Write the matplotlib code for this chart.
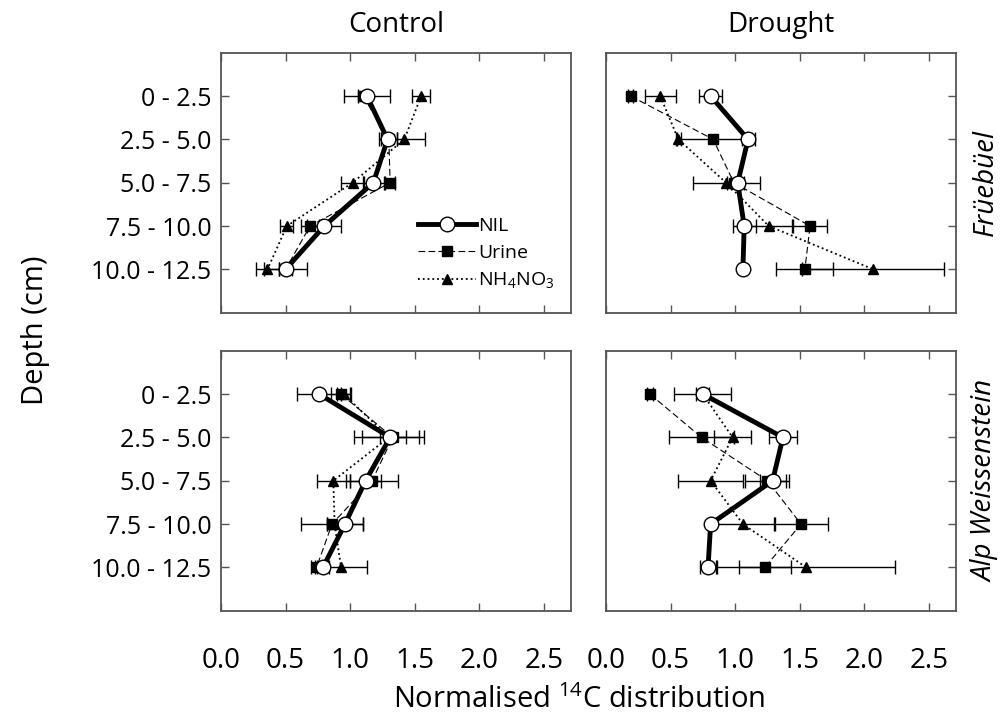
import numpy as np
import matplotlib.pyplot as plt

plt.rcParams['font.family'] = ['Open Sans', 'DejaVu Sans']
plt.rcParams['mathtext.fontset'] = 'custom'
plt.rcParams['mathtext.rm'] = 'Open Sans'

depths = ['0 - 2.5', '2.5 - 5.0', '5.0 - 7.5', '7.5 - 10.0', '10.0 - 12.5']
treatments = ['Control', 'Drought']
sites = ['Früebüel', 'Alp Weissenstein']
xticks = [0.0, 0.5, 1.0, 1.5, 2.0, 2.5]

# Früebüel, control
fc_nil = [1.13, 1.29, 1.18, 0.80, 0.50]
fc_nil_err = [0.18, 0.07, 0.08, 0.13, 0.17]
fc_uri = [1.10, 1.30, 1.31, 0.69, 0.50]
fc_uri_err = [0.04, 0.06, 0.04, 0.07, 0.05]
fc_amm = [1.55, 1.42, 1.02, 0.51, 0.36]
fc_amm_err = [0.07, 0.16, 0.09, 0.05, 0.09]

# Früebüel, drought
fd_nil = [0.81, 1.10, 1.02, 1.07, 1.06]
fd_nil_err = [0.09, 0.05, 0.05, 0.09, 0.0]
fd_uri = [0.19, 0.83, 0.99, 1.58, 1.54]
fd_uri_err = [0.02, 0.28, 0.05, 0.13, 0.22]
fd_amm = [0.42, 0.56, 0.93, 1.26, 2.07]
fd_amm_err = [0.12, 0.02, 0.26, 0.18, 0.55]

# Alp Weissenstein, control
ac_nil = [0.76, 1.31, 1.12, 0.96, 0.79]
ac_nil_err = [0.17, 0.22, 0.12, 0.14, 0.05]
ac_uri = [0.93, 1.33, 1.17, 0.86, 0.74]
ac_uri_err = [0.08, 0.10, 0.20, 0.24, 0.04]
ac_amm = [0.95, 1.30, 0.87, 0.88, 0.93]
ac_amm_err = [0.05, 0.27, 0.13, 0.06, 0.20]

# Alp Weissenstein, drought
ad_nil = [0.75, 1.37, 1.29, 0.81, 0.79]
ad_nil_err = [0.05, 0.11, 0.10, 0.0, 0.06]
ad_uri = [0.34, 0.74, 1.25, 1.51, 1.23]
ad_uri_err = [0.02, 0.25, 0.17, 0.21, 0.20]
ad_amm = [0.75, 0.98, 0.81, 1.06, 1.55]
ad_amm_err = [0.22, 0.14, 0.25, 0.25, 0.69]

panels = [
    [(fc_nil, fc_nil_err, fc_uri, fc_uri_err, fc_amm, fc_amm_err),
     (fd_nil, fd_nil_err, fd_uri, fd_uri_err, fd_amm, fd_amm_err)],
    [(ac_nil, ac_nil_err, ac_uri, ac_uri_err, ac_amm, ac_amm_err),
     (ad_nil, ad_nil_err, ad_uri, ad_uri_err, ad_amm, ad_amm_err)],
]

fig = plt.figure(figsize=(10.08, 7.18), dpi=100)
lefts = [0.2192, 0.6012]
bottoms = [0.5645, 0.1494]
w, h = 0.3472, 0.3621
ypos = np.arange(len(depths))
spine_col = '#555555'

for r in range(2):
    for c in range(2):
        ax = fig.add_axes([lefts[c], bottoms[r], w, h])
        nil, nil_e, uri, uri_e, amm, amm_e = panels[r][c]
        e3 = ax.errorbar(amm, ypos, xerr=amm_e, fmt='^', ls=':', lw=1.3, color='black',
                         ms=7, capsize=5, elinewidth=1, capthick=1, zorder=2)
        e2 = ax.errorbar(uri, ypos, xerr=uri_e, fmt='s', ls=(0, (6, 3)), lw=0.8, color='black',
                         ms=7, capsize=5, elinewidth=1, capthick=1, zorder=3)
        e1 = ax.errorbar(nil, ypos, xerr=nil_e, fmt='o', ls='-', lw=3.5, color='black',
                         mfc='white', mec='black', mew=1, ms=10.5, capsize=5,
                         elinewidth=1, capthick=1, zorder=4)
        ax.set_xlim(0, 2.71)
        ax.set_ylim(5, -1)
        ax.set_yticks(ypos)
        ax.set_xticks(xticks)
        for s in ax.spines.values():
            s.set_color(spine_col)
            s.set_linewidth(1.3)
        ax.tick_params(direction='in', length=6, width=1, color=spine_col,
                       top=True, bottom=True, left=(c == 0), right=(c == 1))
        ax.tick_params(axis='y', labelsize=18, pad=7)
        ax.tick_params(axis='x', labelsize=20, pad=26)
        if c == 0:
            ax.set_yticklabels(depths)
        else:
            ax.set_yticklabels([])
        if r == 1:
            ax.set_xticklabels([f'{t:.1f}' for t in xticks])
        else:
            ax.set_xticklabels([])
        if r == 0:
            ax.set_title(treatments[c], fontsize=20, pad=15)
        if r == 0 and c == 0:
            # legend shows only line + marker, no error caps
            ax.legend([e1[0], e2[0], e3[0]], ['NIL', 'Urine', 'NH$_4$NO$_3$'],
                      loc='center left', bbox_to_anchor=(0.54, 0.225), frameon=False,
                      fontsize=14, handlelength=3.0, handletextpad=0.1,
                      labelspacing=0.45, borderaxespad=0.0)

fig.text(0.035, 0.54, 'Depth (cm)', rotation=90, ha='center', va='center', fontsize=21)
fig.text(0.978, 0.7455, sites[0], rotation=90, ha='center', va='center',
         fontsize=20, style='italic')
fig.text(0.978, 0.3305, sites[1], rotation=90, ha='center', va='center',
         fontsize=20, style='italic')
fig.text(0.575, 0.025, 'Normalised $^{14}$C distribution', ha='center', va='center',
         fontsize=21)

fig.savefig('out.png', dpi=100)
